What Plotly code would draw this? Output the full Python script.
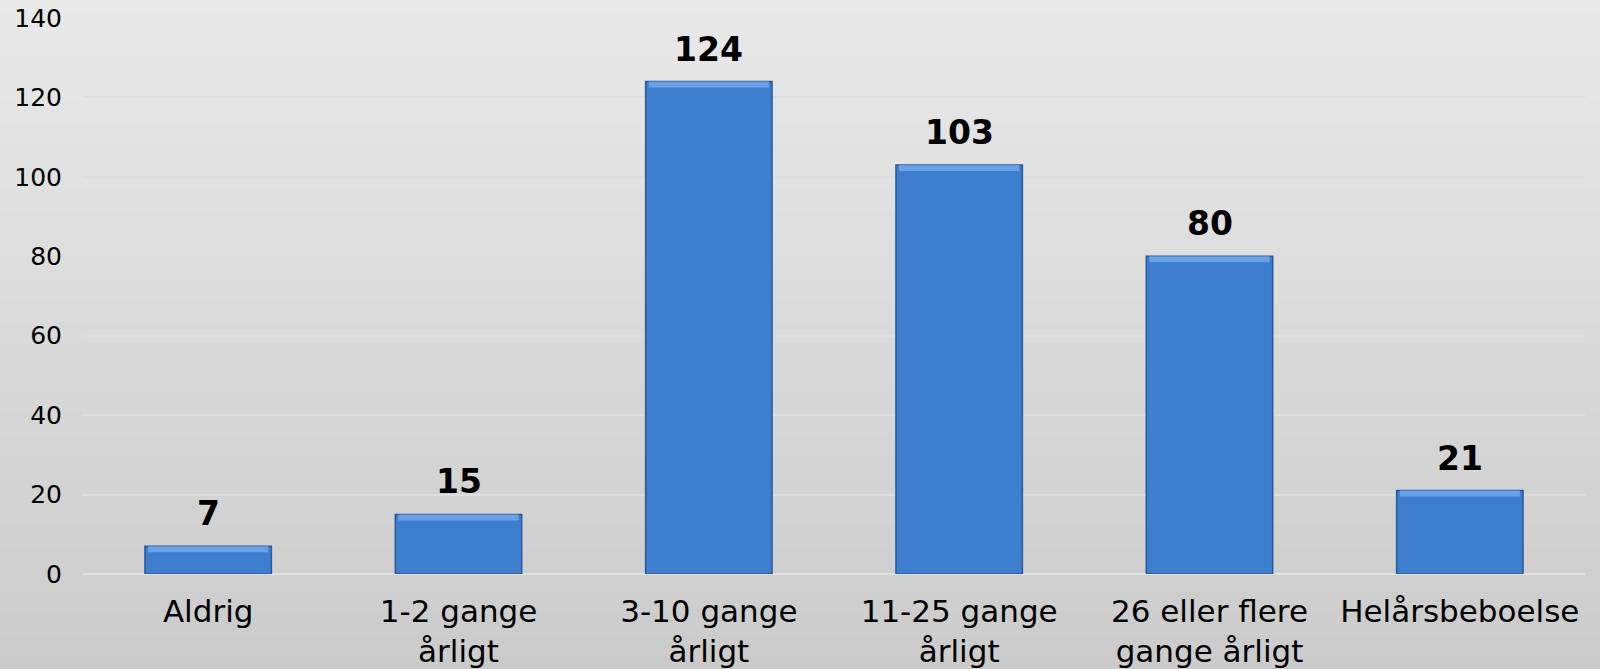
import plotly.graph_objects as go

categories = ["Aldrig", "1-2 gange<br>årligt", "3-10 gange<br>årligt", "11-25 gange<br>årligt",
              "26 eller flere<br>gange årligt", "Helårsbeboelse"]
values = [7, 15, 124, 103, 80, 21]
y_ticks = [0, 20, 40, 60, 80, 100, 120, 140]

W, H = 1600, 669
ML, MR, MT, MB = 83, 15, 18, 95
pw, ph = W - ML - MR, H - MT - MB

font = "DejaVu Sans, Verdana, sans-serif"

fig = go.Figure()
fig.add_trace(go.Bar(
    x=categories, y=values, width=0.505,
    marker=dict(color="#3d7ecf", line=dict(color="#2a5a9a", width=1.5)),
    hoverinfo="skip",
))
# bevel highlight along each bar's top edge (styling only)
bevel = 1.5
fig.add_trace(go.Bar(
    x=categories, y=[bevel] * len(values), base=[v - bevel for v in values], width=0.48,
    marker=dict(color="rgba(120,175,240,0.75)", line=dict(width=0)),
    hoverinfo="skip",
))

# background gradient (decorative)
shapes = []
n = 60
x0 = -ML / pw
x1 = 1 + MR / pw
ybot = -MB / ph
ytop = 1 + MT / ph
c_top = (233, 233, 233)
c_bot = (203, 203, 203)
for i in range(n):
    t = i / (n - 1)
    c = tuple(round(c_top[k] + (c_bot[k] - c_top[k]) * t) for k in range(3))
    ya = ytop - (ytop - ybot) * i / n
    yb = ytop - (ytop - ybot) * (i + 1) / n
    shapes.append(dict(type="rect", xref="paper", yref="paper", x0=x0, x1=x1, y0=yb - 0.002, y1=ya,
                       fillcolor="rgb(%d,%d,%d)" % c, line=dict(width=0), layer="below"))

annotations = [dict(x=c, y=v, text="<b>%d</b>" % v, showarrow=False, yanchor="bottom",
                    yshift=11, font=dict(family=font, size=33, color="#000000"))
               for c, v in zip(categories, values)]

fig.update_layout(
    width=W, height=H,
    margin=dict(l=ML, r=MR, t=MT, b=MB, pad=0),
    paper_bgcolor="#d9d9d9", plot_bgcolor="rgba(0,0,0,0)",
    shapes=shapes, annotations=annotations,
    showlegend=False, barmode="overlay",
    font=dict(family=font, color="#000000"),
)
fig.update_xaxes(range=[-0.5, 5.5], showgrid=False, showline=False, ticks="", automargin=False,
                 tickfont=dict(family=font, size=31, color="#000000"), ticklabelstandoff=16,
                 zeroline=False)
fig.update_yaxes(range=[0, 140], tickvals=y_ticks, showgrid=True, gridcolor="#dedede", gridwidth=1.5,
                 zeroline=True, zerolinecolor="#e2e2e2", zerolinewidth=1.5, showline=False, ticks="",
                 automargin=False,
                 tickfont=dict(family=font, size=25, color="#000000"), ticklabelstandoff=20)

fig.write_html("out.html", config={"displayModeBar": False},
               post_script="document.body.style.margin='0';document.body.style.overflow='hidden';")
